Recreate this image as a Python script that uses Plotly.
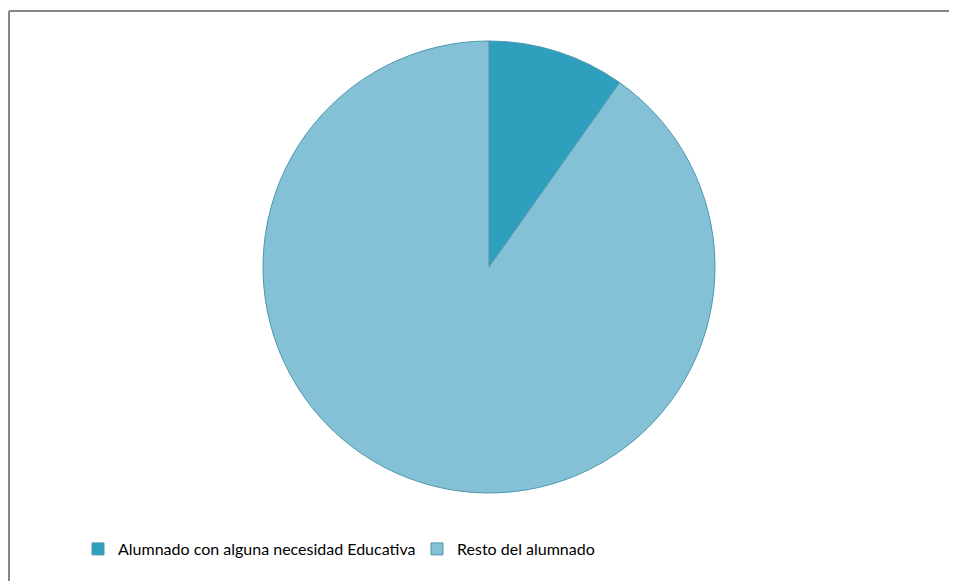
import plotly.graph_objects as go

labels = ["Alumnado con alguna necesidad Educativa", "Resto del alumnado"]
values = [9.8, 90.2]
colors = ["#2F9FBE", "#84C1D7"]

OFF = 8  # page body margin
W, H = 957 - OFF, 581 - OFF
cx, cy, r = 489 - OFF, 267 - OFF, 226

fig = go.Figure()
fig.add_trace(go.Pie(
    labels=labels,
    values=values,
    sort=False,
    direction="clockwise",
    rotation=0,
    textinfo="none",
    hoverinfo="label+percent",
    marker=dict(colors=colors, line=dict(color="#4E97AD", width=1)),
    domain=dict(x=[(cx - r) / W, (cx + r) / W], y=[1 - (cy + r) / H, 1 - (cy - r) / H]),
))

fig.update_layout(
    width=W, height=H,
    margin=dict(l=0, r=0, t=0, b=0),
    paper_bgcolor="white",
    plot_bgcolor="white",
    showlegend=True,
    legend=dict(
        orientation="h",
        x=(78 - OFF) / W, xanchor="left",
        y=1 - (549 - OFF) / H, yanchor="middle",
        font=dict(family="Lato", size=16, color="#000000"),
        entrywidth=294,
    ),
    shapes=[
        dict(type="line", xref="paper", yref="paper", x0=(9 - OFF) / W, x1=1.02,
             y0=1 - (11 - OFF) / H, y1=1 - (11 - OFF) / H,
             line=dict(color="#868686", width=2)),
        dict(type="line", xref="paper", yref="paper", x0=(9 - OFF) / W, x1=(9 - OFF) / W,
             y0=1 - (11 - OFF) / H, y1=-0.02,
             line=dict(color="#868686", width=2)),
    ],
)

fig.write_html("out.html")
